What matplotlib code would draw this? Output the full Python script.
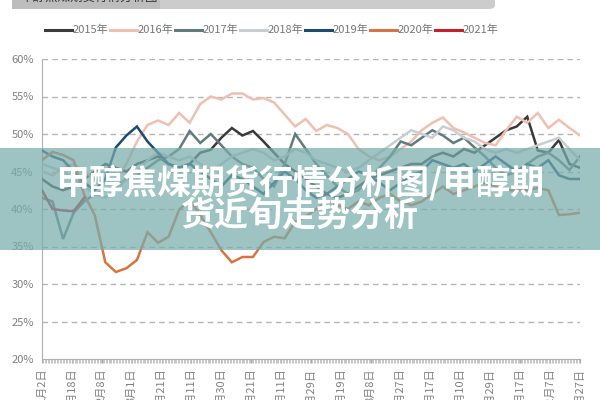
import numpy as np
import matplotlib
matplotlib.use("Agg")
import matplotlib.pyplot as plt
from matplotlib.patches import Rectangle, FancyBboxPatch

plt.rcParams['font.family'] = ['Noto Sans CJK SC', 'DejaVu Sans']

nan = np.nan
years = ["2015年", "2016年", "2017年", "2018年", "2019年", "2020年", "2021年"]
colors = ["#3a3a3a", "#efc0b2", "#627b7e", "#c9cfd1", "#1d4a72", "#d9733f", "#c3202c"]

tick_labels = ["1月2日", "1月18日", "2月8日", "3月1日", "3月21日", "4月11日", "4月30日",
               "5月21日", "6月11日", "6月29日", "7月19日", "8月8日", "8月27日", "9月17日",
               "10月10日", "10月29日", "11月17日", "12月7日", "12月27日"]

y2015 = [44, 43, 42.5, 43, 44, 45, 46, 45.5, 45, 46, 46.5,
         47, 46, 45.5, 46, 47.5, 47.9, 49.5, 50.8, 49.8, 50.4, 49.0, 47.5, 46, 45,
         44, 43, 42, 41.5, 42, 43, 44, 44.5, 45, 45.5, 46, 46, 47, 47.5, 47, 48,
         47.5, 48.5, 49.5, 50.5, 51, 52.3, 47.8, 47.5, 49.2, 46, 45.5]
y2016 = [45, 44.5, 45.5, 46, 45, 44, 43.5, 44, 46, 49, 51.2, 51.8, 51.2, 52.8, 51.5,
         54, 55, 54.6, 55.4, 55.4, 54.6, 54.8, 54.2, 52.6, 51, 52, 50.4, 51.2, 50.8,
         50, 48, 47, 46.5, 47, 48, 49, 50.5, 51.5, 52.2, 50.8, 50.2, 49.5, 48.8, 48.5,
         50.5, 52.3, 51.5, 52.8, 50.8, 51.9, 50.8, 49.8]
y2017 = [41.5, 41, 36, 39.5, 41, 42, 42.5, 43, 44, 44.5, 45.5, 46.5, 47, 48, 50.4,
         48.8, 50, 48.5, 47, 46, 45.5, 44, 43, 46, 50, 48, 46, 44.5, 43, 42, 42.5, 44,
         45.5, 47, 49, 48.5, 49.5, 50.5, 49.8, 48.8, 49.5, 48.2, 47, 45.5, 44.5, 45,
         46, 47, 47.5, 46.5, 45.2, 47]
y2018 = [46, 45.5, 45, 44, 43, 42, 41.5, 42.5, 44, 45, 46.5, 47.5, 47, 46.5, 47, 46,
         45, 46, 47, 47.5, 48, 47.5, 46.5, 47, 48, 47.5, 46.5, 46, 45.5, 45, 45.5, 46.5,
         47.5, 48.5, 49.5, 50.5, 50, 49.5, 51, 50.5, 49.5, 49, 48, 47.5, 48, 47.5, 48,
         48.5, 49, 49.5, 48, 46.5]
y2019 = [47.8, 47, 46.5, 45, 43.5, 42.5, 44, 48.2, 49.8, 51, 49, 47.5, 46, 45.5, 46,
         45, 44, 43, 44.5, 44, 43, 42, 43.5, 45, 44, 42.5, 41.5, 42, 43, 44, 45, 44.5,
         43.5, 42.5, 43.5, 44.5, 45, 46.5, 46, 45.5, 46, 45, 46, 47, 46, 45, 46, 45.5,
         46.5, 44.5, 44, 44]
y2020 = [46.5, 47.6, 47.2, 46.5, 41.9, 39.2, 32.9, 31.6, 32.1, 33.2, 36.9, 35.5, 36.3,
         39.9, 41.2, 39.2, 36.9, 34.5, 32.9, 33.6, 33.6, 35.6, 36.3, 36.1, 38.3, 39, 40,
         41, 40.5, 40, 41, 40.5, 41.5, 42, 41, 40.5, 41, 42, 43, 42, 42.5, 43, 43.5, 43,
         42.5, 42.5, 42.5, 42.8, 42.5, 39.2, 39.3, 39.5]
y2021 = [42.5, 40, 39.8, 39.7, 41.5] + [nan] * 47

series = [y2015, y2016, y2017, y2018, y2019, y2020, y2021]

W, H = 600, 400
fig = plt.figure(figsize=(6, 4), dpi=100)
ax = fig.add_axes([42 / W, 1 - 359 / H, (580 - 42) / W, 300 / H])

n = len(y2015)
x = np.arange(n)
for vals, c in zip(series, colors):
    ax.plot(x, vals, color=c, lw=1.8, solid_joinstyle='miter', zorder=3)

ax.set_xlim(0, n - 1)
ax.set_ylim(20, 60)
yt = np.arange(20, 61, 5)
ax.set_yticks(yt)
ax.set_yticklabels([f"{v}%" for v in yt], fontsize=8, color="#808080")
for v in yt[1:]:
    ax.axhline(v, color="#b5b5b5", lw=1.0, ls=(0, (4, 3)), zorder=1)

tpos = np.linspace(0, n - 1, len(tick_labels))
ax.set_xticks(tpos)
ax.set_xticklabels(tick_labels, rotation=90, fontsize=8, color="#808080", va='top', ha='center')
ax.set_xticks(np.linspace(0, n - 1, 365), minor=True)
ax.tick_params(axis='x', which='major', length=3, color="#aaaaaa", pad=4)
ax.tick_params(axis='x', which='minor', length=3, color="#bbbbbb", width=0.6)
ax.tick_params(axis='y', length=0, pad=6)
for s in ['top', 'right']:
    ax.spines[s].set_visible(False)
ax.spines['left'].set_color("#b0b0b0")
ax.spines['bottom'].set_color("#b0b0b0")

# legend drawn manually
for i, (lab, c) in enumerate(zip(years, colors)):
    x0 = 45 + 65 * i
    fig.add_artist(plt.Line2D([x0 / W, (x0 + 27) / W], [1 - 30 / H] * 2, color=c, lw=2.2))
    fig.text((x0 + 28) / W, 1 - 30 / H, lab, fontsize=8, color="#777777", va='center', ha='left')

# top gray bar (partially visible header)
fig.add_artist(FancyBboxPatch((12 / W, 1 - 9 / H), (495 - 12) / W, 20 / H,
                              boxstyle="round,pad=0,rounding_size=0.01",
                              facecolor="#cccccc", edgecolor="none", transform=fig.transFigure))
fig.add_artist(Rectangle((12 / W, 1 - 9 / H), (160 - 12) / W, 9 / H, facecolor="#bdbdbd",
                         edgecolor="none", transform=fig.transFigure))
fig.text(20 / W, 1 + 3 / H, "甲醇焦煤期货行情分析图", fontsize=9, color="#333333",
         va='center', ha='left')

# overlay banner
fig.add_artist(Rectangle((0, 1 - 250 / H), 1, 102 / H, facecolor="#78acac", alpha=0.72,
                         edgecolor="none", transform=fig.transFigure, zorder=10))
fig.text(0.5, 1 - 183 / H, "甲醇焦煤期货行情分析图/甲醇期", fontsize=24.5, fontweight='bold',
         color="white", ha='center', va='center', zorder=11)
fig.text(0.5, 1 - 215 / H, "货近旬走势分析", fontsize=24.5, fontweight='bold',
         color="white", ha='center', va='center', zorder=11)

fig.savefig("out.png", dpi=100)
